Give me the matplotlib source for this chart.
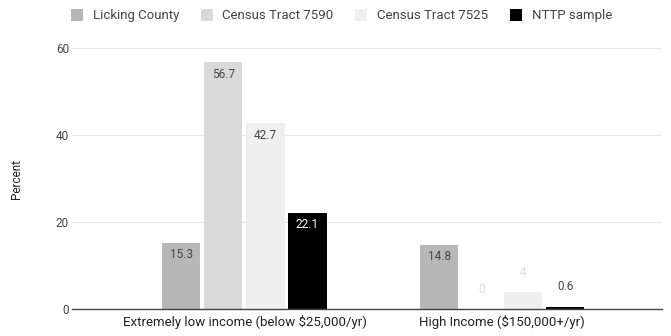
import matplotlib.pyplot as plt
import numpy as np

plt.rcParams['font.family'] = ['Roboto', 'DejaVu Sans']

# data
categories = ['Extremely low income (below $25,000/yr)', 'High Income ($150,000+/yr)']
series_names = ['Licking County', 'Census Tract 7590', 'Census Tract 7525', 'NTTP sample']
licking = [15.3, 14.8]
tract_7590 = [56.7, 0]
tract_7525 = [42.7, 4]
nttp = [22.1, 0.6]

colors = ['#b7b7b7', '#d9d9d9', '#efefef', '#000000']

fig = plt.figure(figsize=(6.71, 3.36), dpi=100)
ax = fig.add_axes([0.107, 0.08, 0.88, 0.777])

x = np.arange(len(categories))
width = 0.1476
step = 0.163
all_series = [licking, tract_7590, tract_7525, nttp]

for i, (name, vals, c) in enumerate(zip(series_names, all_series, colors)):
    pos = x + (i - 1.5) * step
    ax.bar(pos, vals, width, color=c, label=name, zorder=2)
    for p, v in zip(pos, vals):
        lbl = f'{v:g}'
        if v >= 5:
            txt_col = 'white' if c == '#000000' else '#444444'
            ax.text(p, v - 1.2, lbl, ha='center', va='top', fontsize=8.5,
                    color=txt_col, zorder=3)
        else:
            txt_col = '#dddddd' if v in (0, 4) else '#444444'
            ax.text(p, v + 3, lbl, ha='center', va='bottom', fontsize=8.5,
                    color=txt_col, zorder=3)

ax.set_xlim(-0.67, 1.621)
ax.set_ylim(0, 60)
ax.set_yticks([0, 20, 40, 60])
ax.set_xticks(x)
ax.set_xticklabels(categories, fontsize=9.5, color='#222222')
ax.tick_params(axis='y', labelsize=8.5, colors='#444444', length=0, pad=2)
ax.tick_params(axis='x', length=0, pad=4)
ax.grid(axis='y', color='#e6e6e6', linewidth=0.8, zorder=0)
for s in ['top', 'right', 'left']:
    ax.spines[s].set_visible(False)
ax.spines['bottom'].set_color('#444444')
ax.spines['bottom'].set_linewidth(1)
ax.spines['bottom'].set_zorder(4)

ax.set_ylabel('Percent', fontsize=8.5, color='#222222', labelpad=24)

fig.legend(loc='upper left', bbox_to_anchor=(0.088, 1.01), ncol=4,
           frameon=False, fontsize=9.5, handlelength=0.9, handleheight=1.1,
           columnspacing=1.64, handletextpad=0.75, labelcolor='#444444')

fig.savefig('out.png', dpi=100)
